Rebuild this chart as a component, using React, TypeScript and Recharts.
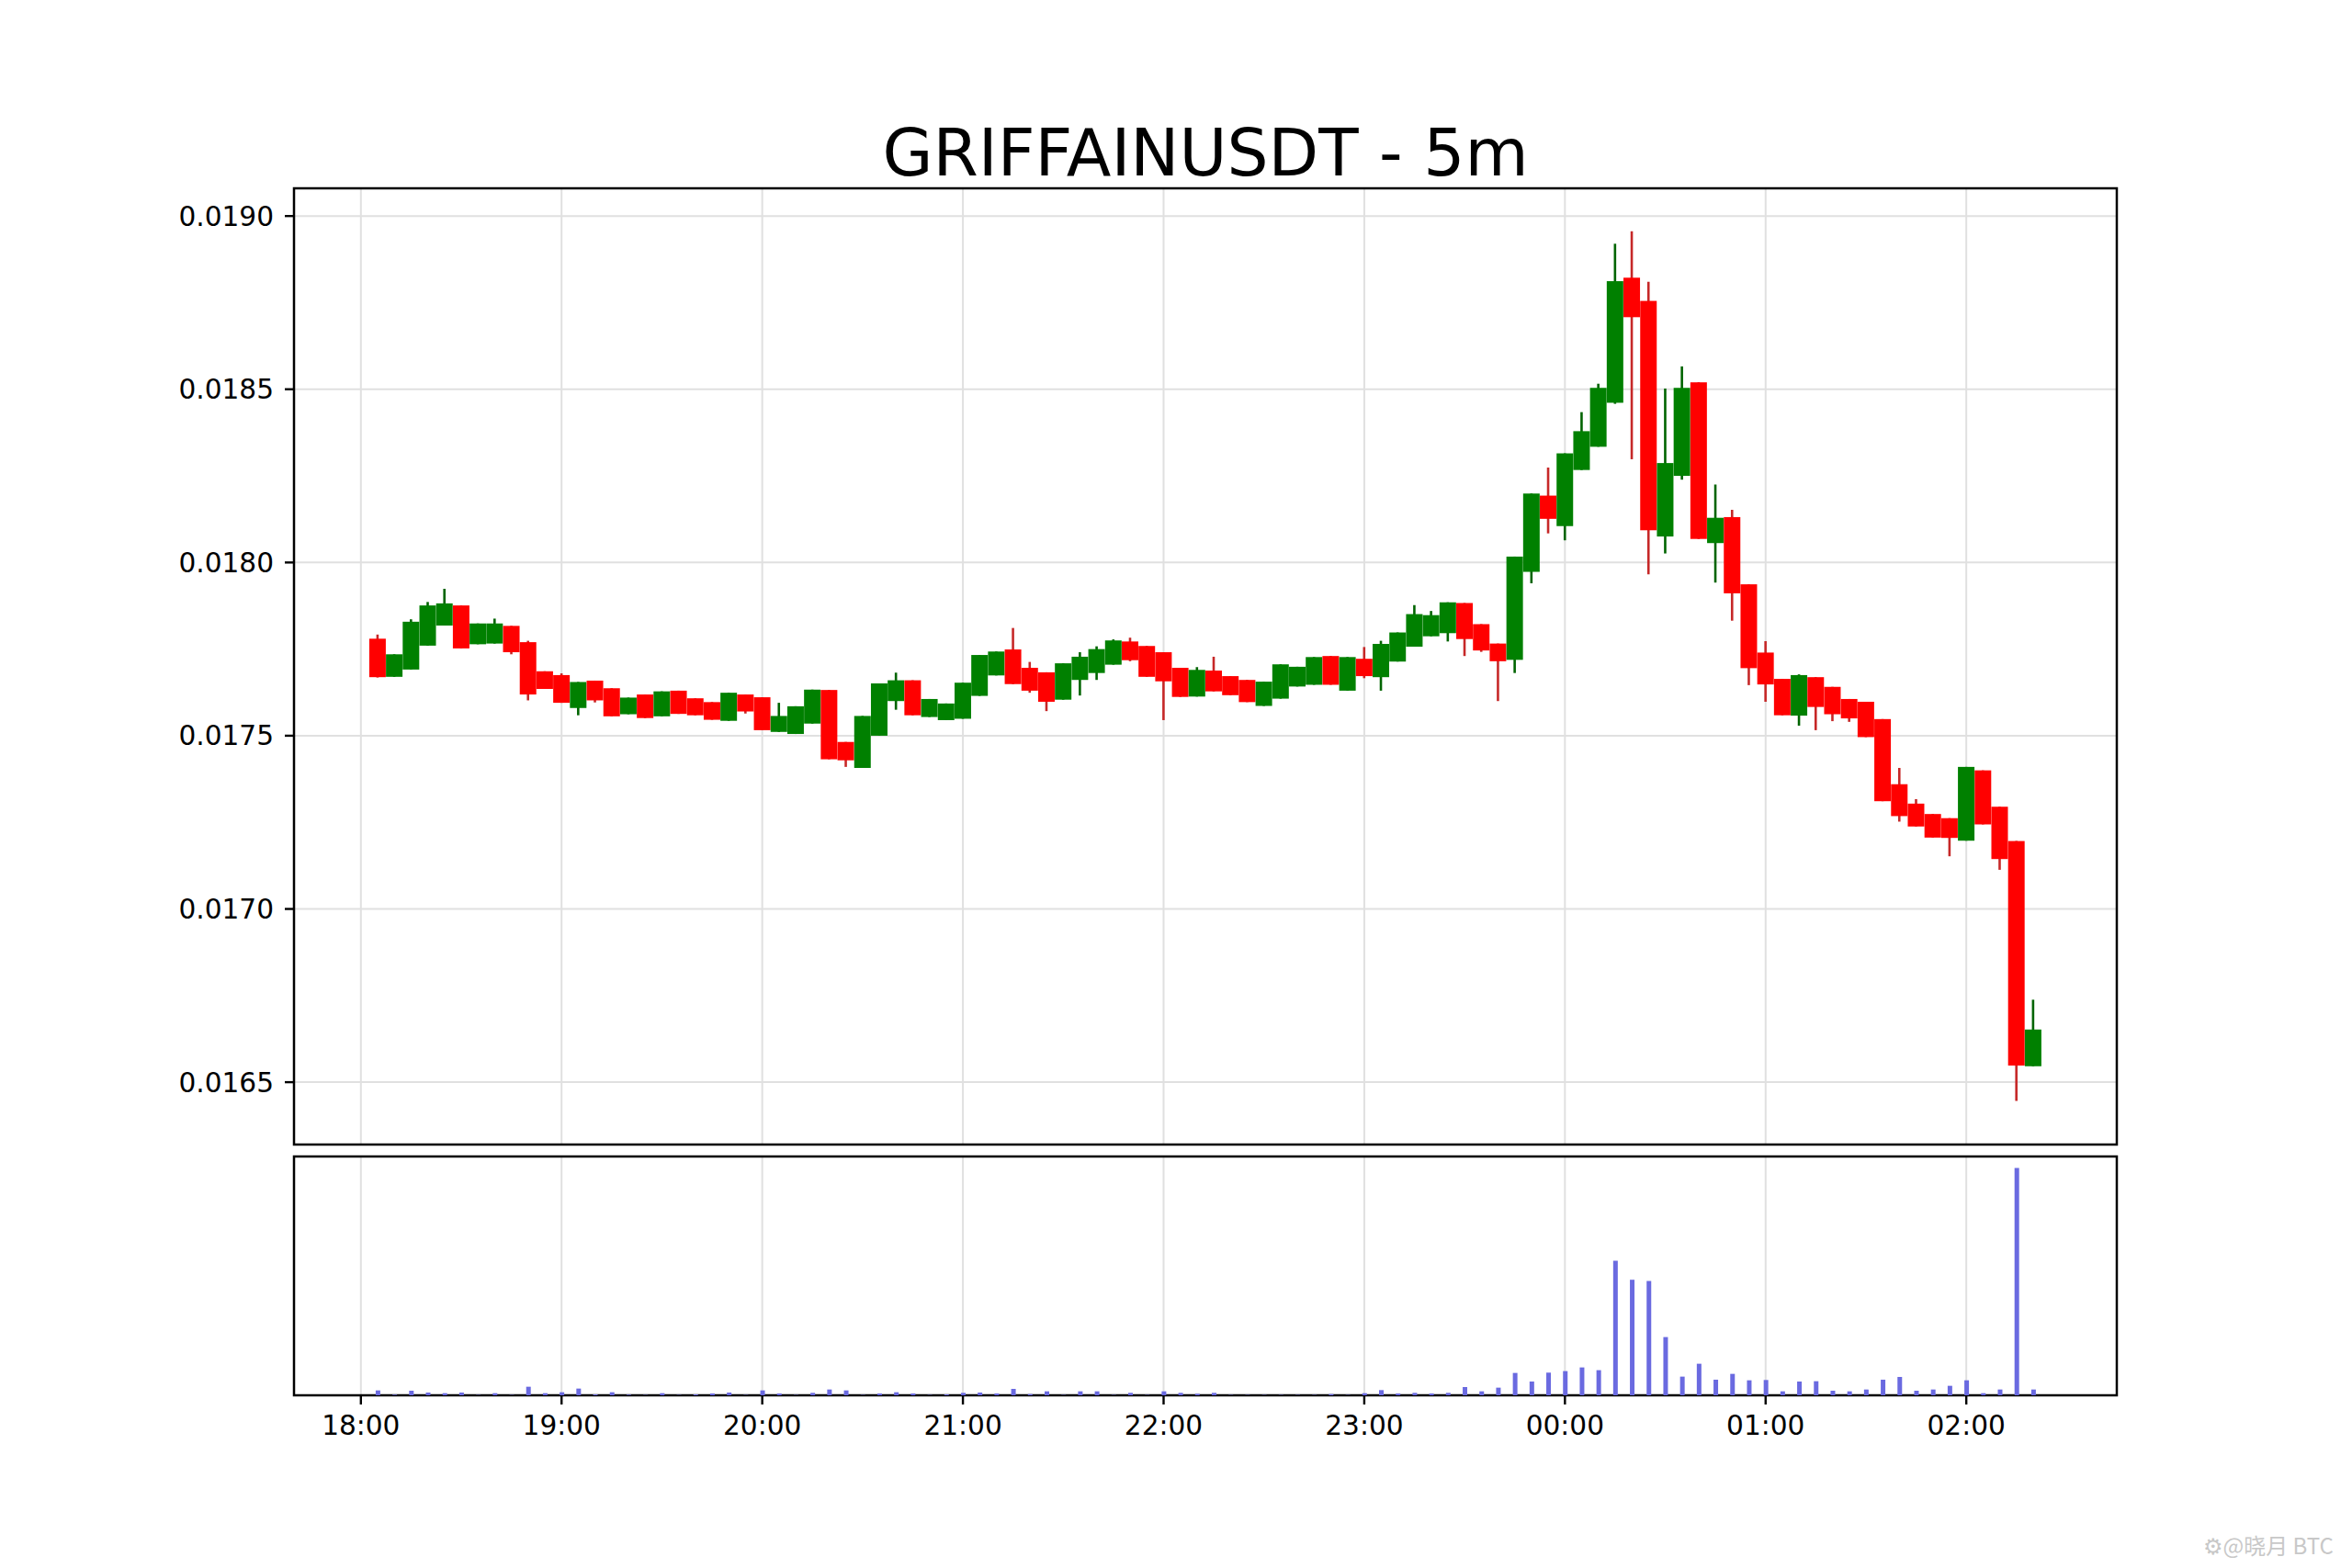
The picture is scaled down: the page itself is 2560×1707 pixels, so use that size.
import React from 'react';
import { ComposedChart, Bar, XAxis, YAxis, CartesianGrid, ReferenceArea } from 'recharts';

// 5m candles, index 1 = 18:05 ... 100 = 02:20
const OPEN = [
  0.01778, 0.01767, 0.017691, 0.01776, 0.017818, 0.017876, 0.017764, 0.017766, 0.017817, 0.01777,
  0.017686, 0.017675, 0.01758, 0.017659, 0.017637, 0.017562, 0.017619, 0.017556, 0.01763, 0.017608,
  0.017597, 0.017543, 0.017619, 0.017611, 0.017511, 0.017505, 0.017535, 0.017632, 0.017482, 0.017407,
  0.0175, 0.0176, 0.01766, 0.017554, 0.017545, 0.017549, 0.017615, 0.017674, 0.017749, 0.017696,
  0.017683, 0.017604, 0.017661, 0.017681, 0.017705, 0.017772, 0.017759, 0.017741, 0.017696, 0.017613,
  0.017688, 0.017672, 0.017661, 0.017586, 0.017607, 0.017642, 0.017647, 0.01773, 0.01763, 0.017722,
  0.017669, 0.017714, 0.017757, 0.017787, 0.017796, 0.017883, 0.017822, 0.017766, 0.017719, 0.017973,
  0.018193, 0.018105, 0.018267, 0.018334, 0.018461, 0.018822, 0.018755, 0.018075, 0.01825, 0.01852,
  0.018056, 0.018131, 0.017937, 0.01774, 0.017664, 0.017558, 0.017669, 0.017641, 0.017606, 0.017598,
  0.017548, 0.01736, 0.017304, 0.017274, 0.017262, 0.017197, 0.0174, 0.017295, 0.017196, 0.016546,
];
const HIGH = [
  0.017792, 0.017735, 0.017836, 0.017886, 0.017924, 0.017876, 0.017824, 0.017838, 0.017817, 0.017774,
  0.017686, 0.01768, 0.017655, 0.017659, 0.017637, 0.01761, 0.017619, 0.017628, 0.01763, 0.017608,
  0.017597, 0.017624, 0.017619, 0.017611, 0.017595, 0.017585, 0.017633, 0.017632, 0.017482, 0.017557,
  0.017651, 0.017682, 0.01766, 0.017606, 0.017593, 0.017653, 0.017733, 0.017743, 0.017811, 0.017713,
  0.017683, 0.017709, 0.017741, 0.017758, 0.017778, 0.017783, 0.017759, 0.017741, 0.017696, 0.017698,
  0.017728, 0.017672, 0.017661, 0.017656, 0.017706, 0.017699, 0.017727, 0.01773, 0.017727, 0.017756,
  0.017774, 0.017798, 0.017877, 0.01786, 0.017885, 0.017883, 0.017822, 0.017766, 0.018017, 0.018199,
  0.018274, 0.018315, 0.018434, 0.018516, 0.01892, 0.018956, 0.01881, 0.018502, 0.018566, 0.01852,
  0.018225, 0.018152, 0.017937, 0.017773, 0.017664, 0.017677, 0.017669, 0.017641, 0.017606, 0.017598,
  0.017548, 0.017407, 0.017317, 0.017274, 0.017262, 0.01741, 0.0174, 0.017295, 0.017196, 0.016738,
];
const LOW = [
  0.017668, 0.01767, 0.017691, 0.01776, 0.017818, 0.017752, 0.017764, 0.017766, 0.017735, 0.017602,
  0.017635, 0.017595, 0.017559, 0.017596, 0.017556, 0.017562, 0.017551, 0.017556, 0.017563, 0.017559,
  0.017546, 0.017543, 0.017564, 0.017516, 0.017511, 0.017505, 0.017535, 0.017432, 0.01741, 0.017407,
  0.0175, 0.017575, 0.017559, 0.017554, 0.017545, 0.017549, 0.017615, 0.017674, 0.017649, 0.017624,
  0.017571, 0.017604, 0.017616, 0.017661, 0.017705, 0.017715, 0.01767, 0.017545, 0.017612, 0.017613,
  0.017628, 0.017617, 0.017597, 0.017586, 0.017607, 0.017642, 0.017647, 0.017647, 0.01763, 0.017666,
  0.01763, 0.017714, 0.017757, 0.017787, 0.017772, 0.01773, 0.017742, 0.0176, 0.017681, 0.01794,
  0.018084, 0.018064, 0.018267, 0.018334, 0.018458, 0.018298, 0.017966, 0.018026, 0.018239, 0.018068,
  0.017942, 0.017832, 0.017646, 0.017598, 0.017559, 0.017529, 0.017516, 0.017542, 0.01754, 0.017496,
  0.017311, 0.017252, 0.017238, 0.017206, 0.017152, 0.017197, 0.017244, 0.017113, 0.016446, 0.016546,
];
const CLOSE = [
  0.017669, 0.017735, 0.017829, 0.017876, 0.017882, 0.017752, 0.017824, 0.017824, 0.017741, 0.017619,
  0.017635, 0.017595, 0.017655, 0.017602, 0.017556, 0.01761, 0.017551, 0.017628, 0.017563, 0.017559,
  0.017546, 0.017624, 0.01757, 0.017516, 0.017557, 0.017585, 0.017633, 0.017432, 0.017429, 0.017557,
  0.017651, 0.01766, 0.017559, 0.017606, 0.017593, 0.017653, 0.017733, 0.017743, 0.017649, 0.01763,
  0.017598, 0.017709, 0.017728, 0.01775, 0.017775, 0.017718, 0.01767, 0.017657, 0.017612, 0.01769,
  0.017628, 0.017617, 0.017597, 0.017656, 0.017706, 0.017699, 0.017727, 0.017647, 0.017727, 0.017672,
  0.017765, 0.017798, 0.017851, 0.017848, 0.017885, 0.017779, 0.017746, 0.017715, 0.018017, 0.018199,
  0.018126, 0.018315, 0.018379, 0.018504, 0.018812, 0.018708, 0.018093, 0.018287, 0.018504, 0.018068,
  0.018129, 0.017911, 0.017695, 0.017648, 0.017559, 0.017675, 0.017583, 0.017562, 0.01755, 0.017496,
  0.017311, 0.017268, 0.017238, 0.017206, 0.017205, 0.01741, 0.017244, 0.017144, 0.016548, 0.016652,
];
const VOLUME = [
  16, 2, 15, 9, 7, 9, 1, 7, 1, 28,
  7, 10, 22, 3, 10, 2, 1, 7, 1, 3,
  6, 9, 1, 16, 6, 1, 8, 19, 16, 1,
  6, 10, 6, 1, 3, 8, 9, 6, 21, 4,
  13, 1, 13, 13, 1, 8, 1, 13, 8, 5,
  8, 1, 1, 1, 1, 1, 1, 4, 1, 7,
  17, 6, 8, 6, 8, 27, 13, 25, 73, 45,
  74, 79, 91, 82, 439, 377, 373, 190, 61, 103,
  51, 70, 49, 50, 13, 45, 46, 15, 13, 19,
  51, 60, 15, 19, 31, 49, 7, 19, 742, 19,
];

const TICK_INDEX = [0, 12, 24, 36, 48, 60, 72, 84, 96];
const TICK_LABELS = ['18:00', '19:00', '20:00', '21:00', '22:00', '23:00', '00:00', '01:00', '02:00'];
const PRICE_TICKS = [0.0165, 0.017, 0.0175, 0.018, 0.0185, 0.019];

const X_DOMAIN: [number, number] = [-4, 105];
const PRICE_DOMAIN: [number, number] = [0.01632, 0.01908];
const VOL_MAX = Math.max(...VOLUME) * 1.05;

const data = OPEN.map((o, k) => ({
  i: k + 1,
  open: o,
  high: HIGH[k],
  low: LOW[k],
  close: CLOSE[k],
  volume: VOLUME[k],
}));

const FONT = '"DejaVu Sans", sans-serif';
const tickStyle = { fill: '#000', fontSize: 29.6, fontFamily: FONT };

const Candle = (props: any) => {
  const { x, y, width, height, payload } = props;
  if (!payload) return null;
  const { open, close, high, low } = payload;
  const top = Math.min(y, y + height);
  const h = Math.abs(height);
  const ratio = high > low ? h / (high - low) : 0;
  const up = close >= open;
  const bodyTop = top + (high - Math.max(open, close)) * ratio;
  const bodyH = Math.max(1.5, Math.abs(open - close) * ratio);
  const cx = x + width / 2;
  return (
    <g>
      <line x1={cx} x2={cx} y1={top} y2={top + h} stroke={up ? '#006400' : '#c62828'} strokeWidth={2.6} />
      <rect x={x} y={bodyTop} width={width} height={bodyH} fill={up ? '#008000' : '#ff0000'} />
    </g>
  );
};

const xLabel = (v: number) => TICK_LABELS[TICK_INDEX.indexOf(v)] ?? '';

export default function App() {
  return (
    <div style={{ position: 'absolute', left: 0, top: 0, width: 2560, height: 1707, background: '#fff', fontFamily: FONT }}>
      <div
        style={{
          position: 'absolute',
          left: 320,
          width: 1984,
          top: 131,
          textAlign: 'center',
          fontSize: 71,
          lineHeight: '71px',
          color: '#000',
        }}
      >
        GRIFFAINUSDT - 5m
      </div>

      <div style={{ position: 'absolute', left: 0, top: 0 }}>
        <ComposedChart width={2560} height={1250} data={data} margin={{ top: 205, right: 256, bottom: 4, left: 0 }}>
          <CartesianGrid stroke="#e0e0e0" strokeWidth={2} />
          <XAxis type="number" dataKey="i" domain={X_DOMAIN} ticks={TICK_INDEX} allowDataOverflow hide />
          <YAxis
            type="number"
            domain={PRICE_DOMAIN}
            ticks={PRICE_TICKS}
            allowDataOverflow
            width={320}
            tickFormatter={(v: number) => v.toFixed(4)}
            tick={tickStyle}
            tickSize={10}
            tickMargin={12}
            axisLine={false}
            tickLine={{ stroke: '#000', strokeWidth: 2.4 }}
          />
          <Bar dataKey={(d: any) => [d.low, d.high]} shape={<Candle />} barSize={18} isAnimationActive={false} />
          <ReferenceArea
            x1={X_DOMAIN[0]}
            x2={X_DOMAIN[1]}
            y1={PRICE_DOMAIN[0]}
            y2={PRICE_DOMAIN[1]}
            fill="none"
            stroke="#000"
            strokeWidth={2.5}
            fillOpacity={0}
          />
        </ComposedChart>
      </div>

      <div style={{ position: 'absolute', left: 0, top: 1250 }}>
        <ComposedChart width={2560} height={457} data={data} margin={{ top: 9, right: 256, bottom: 128, left: 320 }}>
          <CartesianGrid stroke="#e0e0e0" strokeWidth={2} horizontal={false} />
          <XAxis
            type="number"
            dataKey="i"
            domain={X_DOMAIN}
            ticks={TICK_INDEX}
            allowDataOverflow
            tickFormatter={xLabel}
            tick={tickStyle}
            tickSize={10}
            tickMargin={12}
            height={60}
            axisLine={false}
            tickLine={{ stroke: '#000', strokeWidth: 2.4 }}
          />
          <YAxis type="number" domain={[0, VOL_MAX]} allowDataOverflow hide />
          <Bar dataKey="volume" fill="#6a6ae0" barSize={5} isAnimationActive={false} />
          <ReferenceArea
            x1={X_DOMAIN[0]}
            x2={X_DOMAIN[1]}
            y1={0}
            y2={VOL_MAX}
            fill="none"
            stroke="#000"
            strokeWidth={2.5}
            fillOpacity={0}
          />
        </ComposedChart>
      </div>

      <div
        style={{
          position: 'absolute',
          left: 2398,
          top: 1664,
          fontSize: 24,
          color: '#c8c8c8',
          fontFamily: '"Noto Sans CJK SC", "DejaVu Sans", sans-serif',
          whiteSpace: 'nowrap',
        }}
      >
        ⚙@晓月 BTC
      </div>
    </div>
  );
}
